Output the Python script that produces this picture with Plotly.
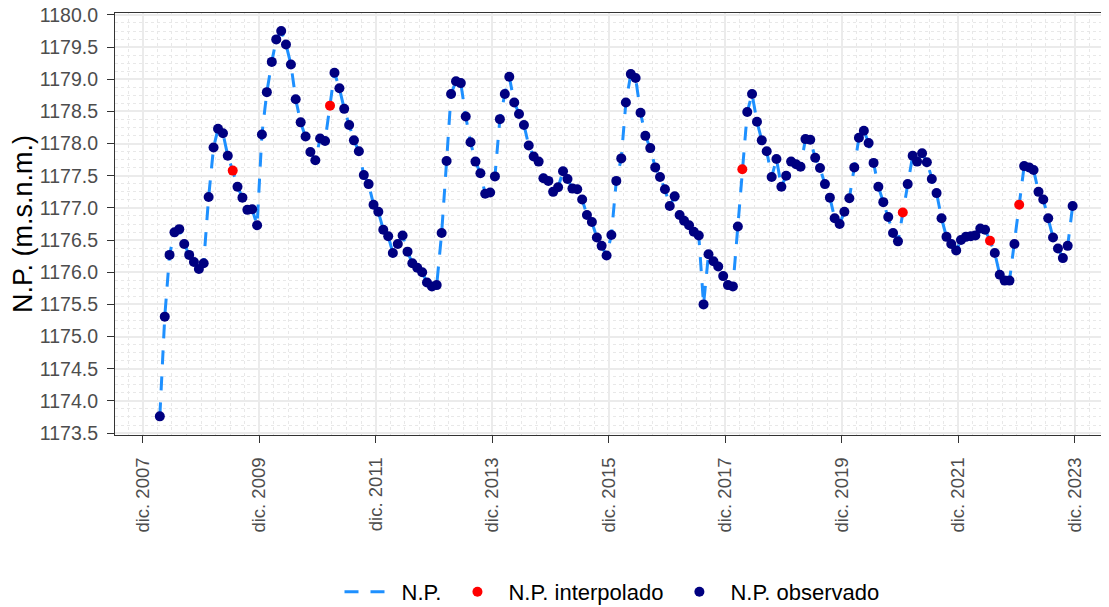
import pandas as pd
import plotly.graph_objects as go

# ---- data (monthly piezometric level, m.s.n.m.) ----
start_month = "2008-03"
np_values = [
    1173.76, 1175.31, 1176.27, 1176.62, 1176.67, 1176.44, 1176.27, 1176.16, 1176.05, 1176.14,
    1177.17, 1177.94, 1178.23, 1178.16, 1177.81, 1177.58, 1177.33, 1177.16, 1176.97, 1176.98,
    1176.73, 1178.14, 1178.80, 1179.27, 1179.62, 1179.75, 1179.54, 1179.23, 1178.69, 1178.33,
    1178.11, 1177.87, 1177.74, 1178.08, 1178.04, 1178.59, 1179.10, 1178.86, 1178.54, 1178.29,
    1178.05, 1177.88, 1177.51, 1177.37, 1177.05, 1176.94, 1176.66, 1176.56, 1176.30, 1176.44,
    1176.57, 1176.32, 1176.14, 1176.07, 1176.00, 1175.84, 1175.78, 1175.80, 1176.61, 1177.73,
    1178.77, 1178.97, 1178.94, 1178.42, 1178.02, 1177.72, 1177.54, 1177.22, 1177.24, 1177.49,
    1178.38, 1178.77, 1179.04, 1178.64, 1178.46, 1178.29, 1177.97, 1177.80, 1177.72, 1177.46,
    1177.42, 1177.25, 1177.32, 1177.57, 1177.45, 1177.30, 1177.29, 1177.13, 1176.89, 1176.78,
    1176.54, 1176.41, 1176.26, 1176.58, 1177.42, 1177.77, 1178.64, 1179.08, 1179.02, 1178.48,
    1178.12, 1177.93, 1177.63, 1177.48, 1177.29, 1177.03, 1177.18, 1176.89, 1176.80, 1176.73,
    1176.63, 1176.57, 1175.50, 1176.28, 1176.17, 1176.09, 1175.94, 1175.80, 1175.78, 1176.71,
    1177.60, 1178.49, 1178.77, 1178.34, 1178.05, 1177.88, 1177.48, 1177.76, 1177.33, 1177.50,
    1177.72, 1177.68, 1177.64, 1178.07, 1178.06, 1177.78, 1177.62, 1177.37, 1177.16, 1176.84,
    1176.75, 1176.94, 1177.15, 1177.63, 1178.09, 1178.20, 1178.01, 1177.70, 1177.33, 1177.09,
    1176.86, 1176.61, 1176.48, 1176.93, 1177.37, 1177.81, 1177.72, 1177.85, 1177.71, 1177.45,
    1177.23, 1176.84, 1176.55, 1176.44, 1176.34, 1176.50, 1176.55, 1176.56, 1176.57, 1176.68,
    1176.66, 1176.49, 1176.30, 1175.96, 1175.87, 1175.87, 1176.44, 1177.05, 1177.65, 1177.63,
    1177.59, 1177.25, 1177.13, 1176.84, 1176.54, 1176.37, 1176.22, 1176.41, 1177.03,
]
interp_months = ["2009-06", "2011-02", "2018-03", "2020-12", "2022-06", "2022-12"]

tick_dates = ["2007-12-01", "2009-12-01", "2011-12-01", "2013-12-01", "2015-12-01",
              "2017-12-01", "2019-12-01", "2021-12-01", "2023-12-01"]
tick_text = ["dic. 2007", "dic. 2009", "dic. 2011", "dic. 2013", "dic. 2015",
             "dic. 2017", "dic. 2019", "dic. 2021", "dic. 2023"]
y_ticks = [1173.5, 1174.0, 1174.5, 1175.0, 1175.5, 1176.0, 1176.5, 1177.0,
           1177.5, 1178.0, 1178.5, 1179.0, 1179.5, 1180.0]

# ---- build frame ----
dates = pd.date_range(start_month + "-01", periods=len(np_values), freq="MS") + pd.Timedelta(days=16)
df = pd.DataFrame({"fecha": dates, "np": np_values})
df["interp"] = df["fecha"].dt.strftime("%Y-%m").isin(interp_months)
obs = df[~df["interp"]]
itp = df[df["interp"]]

FONT = "Liberation Sans, Arial, sans-serif"

fig = go.Figure()
fig.add_trace(go.Scatter(
    x=df["fecha"], y=df["np"], mode="lines", name="N.P.",
    line=dict(color="#1E90FF", width=3, dash="14px,12px"),
))
fig.add_trace(go.Scatter(
    x=itp["fecha"], y=itp["np"], mode="markers", name="N.P. interpolado",
    marker=dict(color="#FF0000", size=10),
))
fig.add_trace(go.Scatter(
    x=obs["fecha"], y=obs["np"], mode="markers", name="N.P. observado",
    marker=dict(color="#000080", size=10),
))

# The page body adds an 8 px offset, so the figure is 8 px smaller on each axis.
fig.update_layout(
    width=1101, height=599,
    margin=dict(l=107, r=0, t=5, b=172, autoexpand=False),
    paper_bgcolor="white", plot_bgcolor="white",
    font=dict(family=FONT, color="#000000"),
    showlegend=True,
    legend=dict(
        orientation="h", x=0.5, xanchor="center", y=-0.372, yanchor="middle",
        font=dict(size=22, color="#000000", family=FONT),
        bgcolor="rgba(0,0,0,0)", itemwidth=52, tracegroupgap=0,
    ),
)

fig.update_xaxes(
    type="date", automargin=False,
    range=["2007-06-10", "2024-07-02"],
    tickvals=tick_dates, ticktext=tick_text, tickangle=-90,
    tickfont=dict(size=18.5, color="#4D4D4D", family=FONT),
    ticks="outside", ticklen=7, tickwidth=1.2, tickcolor="#333333",
    ticklabelstandoff=7, ticklabeloverflow="allow",
    showline=True, linecolor="#333333", linewidth=1.2, mirror=True,
    showgrid=True, gridcolor="#EBEBEB", gridwidth=2,
    minor=dict(dtick="M3", tick0="2007-12-01", showgrid=True, gridcolor="#E8E8E8",
               griddash="dot", gridwidth=1),
    zeroline=False,
)
fig.update_yaxes(
    automargin=False,
    range=[1173.47, 1180.03],
    tickvals=y_ticks, tickformat=".1f",
    tickfont=dict(size=19.5, color="#4D4D4D", family=FONT),
    ticks="outside", ticklen=7, tickwidth=1.2, tickcolor="#333333",
    ticklabelstandoff=5, ticklabeloverflow="allow",
    showline=True, linecolor="#333333", linewidth=1.2, mirror=False,
    showgrid=True, gridcolor="#EBEBEB", gridwidth=2,
    minor=dict(dtick=0.125, tick0=1173.5, showgrid=True, gridcolor="#E8E8E8",
               griddash="dot", gridwidth=1),
    title=dict(text="N.P. (m.s.n.m.)", font=dict(size=27, color="#000000", family=FONT),
               standoff=8),
    zeroline=False,
)

fig.write_html("out.html")
